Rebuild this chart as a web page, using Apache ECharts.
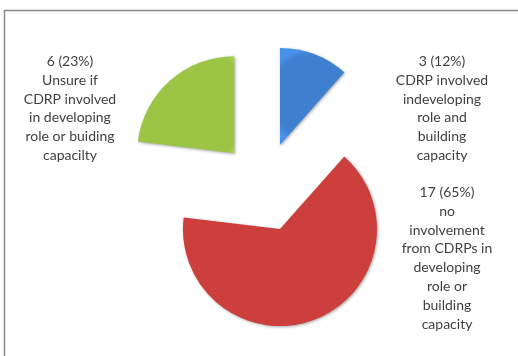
<!DOCTYPE html>
<html><head><meta charset="utf-8">
<script src="https://cdn.jsdelivr.net/npm/echarts@6/dist/echarts.min.js"></script>
<style>html,body{margin:0;padding:0;background:#fff}#c{width:518px;height:356px}</style>
</head><body><div id="c"></div>
<script>
var categories = [
  'CDRP involved\nindeveloping\nrole and\nbuilding\ncapacity',
  'no\ninvolvement\nfrom CDRPs in\ndeveloping\nrole or\nbuilding\ncapacity',
  'Unsure if\nCDRP involved\nin developing\nrole or buiding\ncapacilty'
];
var values = [3, 17, 6];
var percents = [12, 65, 23];
var colors = ['#3f7fcf', '#cc3f3c', '#9cc545'];
var labelPos = [[442, 52], [447, 183], [70, 52]];

var chart = echarts.init(document.getElementById('c'));
function grad(c){
  return new echarts.graphic.RadialGradient(0.5, 0.5, 0.75, [
    {offset: 0, color: c}, {offset: 0.85, color: c},
    {offset: 1, color: echarts.color.lift(c, -0.15)}]);
}
var graphics = [{type: 'rect', shape: {x: 4.5, y: 10.5, width: 530, height: 360},
    style: {fill: 'none', stroke: '#8a8a8a', lineWidth: 1.5}, z: -1}];
values.forEach(function(v, i){
  graphics.push({type: 'text', x: labelPos[i][0], y: labelPos[i][1],
    style: {text: v + ' (' + percents[i] + '%)\n' + categories[i],
      font: '14px Lato', lineHeight: 18.8, fill: '#3f3f3f',
      textAlign: 'center', textVerticalAlign: 'top'}});
});
chart.setOption({
  animation: false,
  graphic: graphics,
  series: [{
    type: 'pie',
    center: [264, 187],
    radius: [0, 97],
    startAngle: 90,
    clockwise: true,
    selectedMode: 'multiple',
    selectedOffset: 45,
    label: {show: false},
    labelLine: {show: false},
    itemStyle: {shadowBlur: 3, shadowColor: 'rgba(0,0,0,0.35)', shadowOffsetX: 1, shadowOffsetY: 1},
    data: values.map(function(v, i){
      return {value: v, name: categories[i], selected: true,
        itemStyle: {color: grad(colors[i])}};
    })
  }]
});
</script></body></html>
